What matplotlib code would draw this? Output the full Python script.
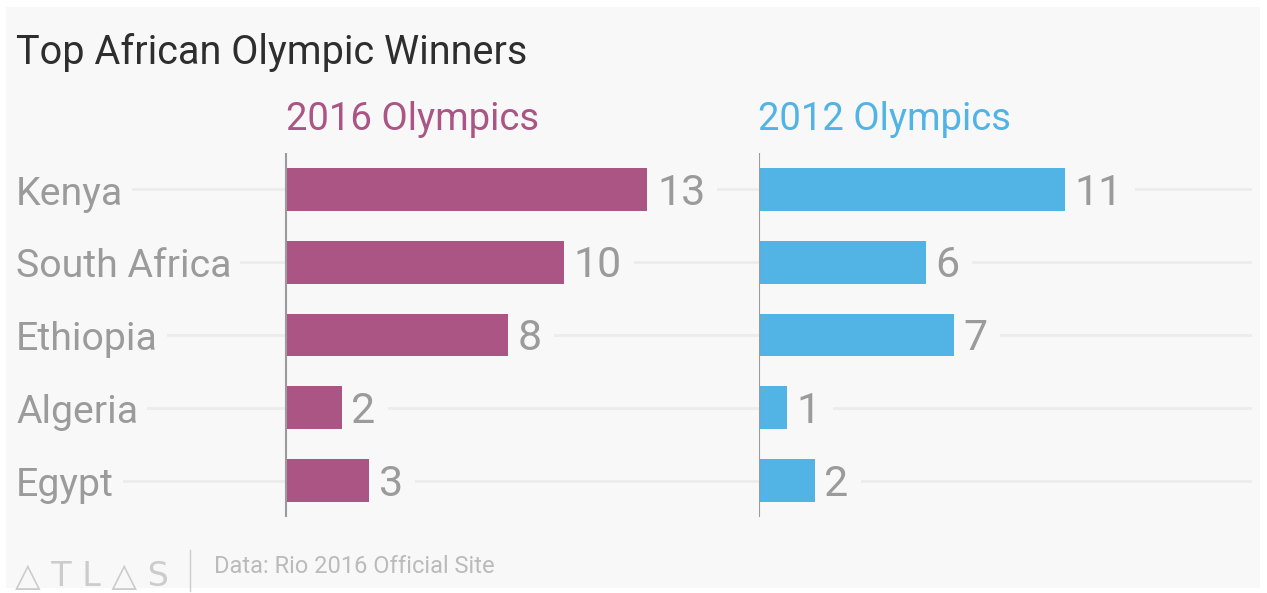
import numpy as np
import matplotlib as mpl
import matplotlib.pyplot as plt
from matplotlib.patches import Rectangle

countries = ['Kenya', 'South Africa', 'Ethiopia', 'Algeria', 'Egypt']
medals_2016 = [13, 10, 8, 2, 3]
medals_2012 = [11, 6, 7, 1, 2]

W, H = 1267, 593
BG = '#f8f8f8'
GRID = '#ececec'
PINK = '#aa5584'
BLUE = '#52b3e5'
GRAY = '#9b9b9b'
FONT = ['Roboto', 'DejaVu Sans']

plt.rcParams['font.family'] = FONT


def fx(px):
	return px / W


def fy(py):
	return 1 - py / H


def setup(ax, xlim):
	for s in ax.spines.values():
		s.set_visible(False)
	ax.set_xticks([])
	ax.set_yticks([])
	ax.set_facecolor('none')
	ax.set_xlim(xlim)
	ax.set_ylim(len(countries) - 0.5, -0.5)
	for i in range(len(countries)):
		ax.axhline(i, color=GRID, lw=2, zorder=0)
	ax.axvline(0, color=GRAY, lw=1.5, zorder=4)


def bars(ax, vals, col):
	y = np.arange(len(vals))
	ax.barh(y, vals, height=0.59, color=col, zorder=3)
	for i, v in enumerate(vals):
		ax.annotate(str(v), (v, i), xytext=(7, -11), textcoords='offset points',
			ha='left', va='baseline', fontsize=31, color=GRAY, zorder=2,
			bbox=dict(boxstyle='square,pad=0.28', fc=BG, ec='none'))


fig = plt.figure(figsize=(W / 100, H / 100), dpi=100, facecolor='white')
fig.patches.append(Rectangle((fx(6), fy(588)), fx(1254), 581 / H,
	transform=fig.transFigure, fc=BG, ec='none', zorder=-10))

px_unit = 27.8
bot, top = 517, 153
left_x0 = -(286 - 15) / px_unit
ax1 = fig.add_axes([fx(15), fy(bot), fx(759 - 15), (bot - top) / H])
setup(ax1, (left_x0, left_x0 + (759 - 15) / px_unit))
ax2 = fig.add_axes([fx(759), fy(bot), fx(1252 - 759), (bot - top) / H])
setup(ax2, (0, (1252 - 759) / px_unit))

bars(ax1, medals_2016, PINK)
bars(ax2, medals_2012, BLUE)

for i, c in enumerate(countries):
	ax1.annotate(c, (1 / 744, i), xycoords=ax1.get_yaxis_transform(),
		xytext=(0, -11), textcoords='offset points', ha='left', va='baseline',
		fontsize=28.3, color=GRAY, zorder=2,
		bbox=dict(boxstyle='square,pad=0.22', fc=BG, ec='none'))

fig.text(fx(16), fy(64), 'Top African Olympic Winners', fontsize=28.5,
	color='#2e2e2e', ha='left', va='baseline')
fig.text(fx(286), fy(130), '2016 Olympics', fontsize=27.5, color=PINK,
	ha='left', va='baseline')
fig.text(fx(758), fy(130), '2012 Olympics', fontsize=27.5, color=BLUE,
	ha='left', va='baseline')

# footer
fig.text(fx(15), fy(586), '\u25b3 T L \u25b3 S', fontsize=24, color='#cccccc',
	ha='left', va='baseline', family=['DejaVu Sans'])
fig.add_artist(plt.Line2D([fx(190), fx(190)], [fy(550), fy(591)],
	transform=fig.transFigure, color='#cccccc', lw=1))
fig.text(fx(214), fy(573), 'Data: Rio 2016 Official Site', fontsize=17,
	color='#bbbbbb', ha='left', va='baseline')

fig.savefig('out.png', dpi=100, facecolor='white')
